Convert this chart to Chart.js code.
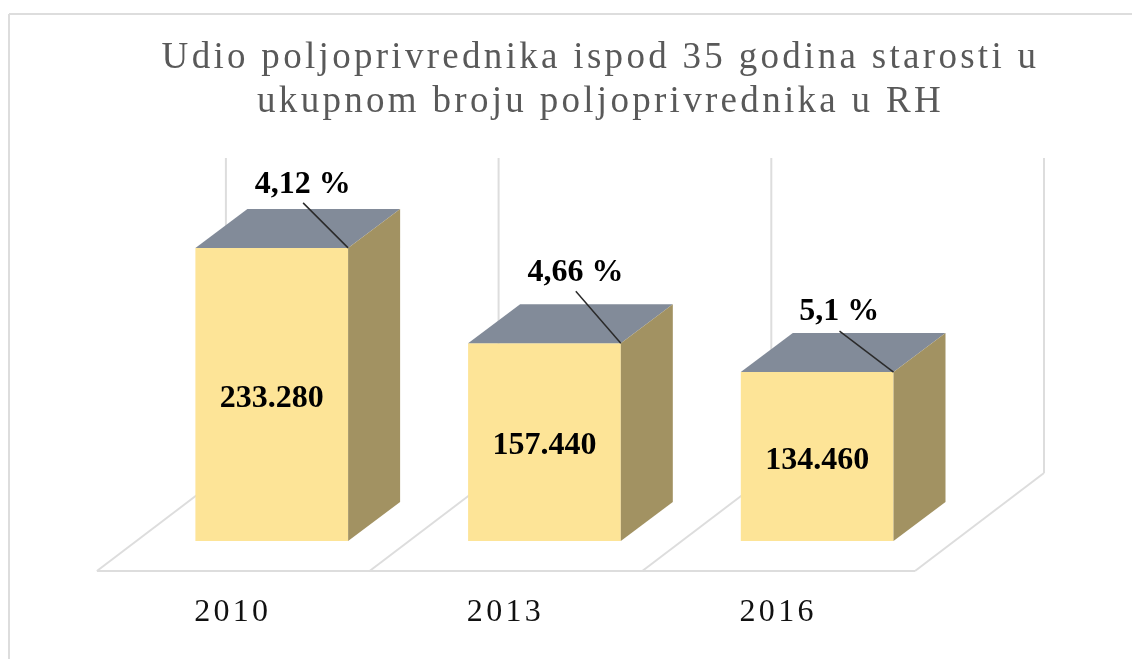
<!DOCTYPE html>
<html>
<head>
<meta charset="utf-8">
<style>html,body{margin:0;padding:0;background:#fff;overflow:hidden}canvas{display:block}</style>
<script src="https://cdn.jsdelivr.net/npm/chart.js@4/dist/chart.umd.min.js"></script>
</head>
<body>
<canvas id="c" width="1132" height="659"></canvas>
<script>
const categories = ['2010', '2013', '2016'];
const farmers = [233280, 157440, 134460];
const farmerLabels = ['233.280', '157.440', '134.460'];
const shareLabels = ['4,12 %', '4,66 %', '5,1 %'];
const titleLines = ['Udio poljoprivrednika ispod 35 godina starosti u', 'ukupnom broju poljoprivrednika u RH'];

const DEPTH_X = 52, DEPTH_Y = 39;
const WALL_X = 129, WALL_Y = 98;
const SERIF = '"Liberation Serif", serif';
const GRID = '#dddddd';
const shareOffset = [[31, -63], [31, -70], [22, -60]];
const leaderStart = [[-45, -45], [-45, -52], [-54, -41]];

function line(ctx, x1, y1, x2, y2) {
  ctx.beginPath(); ctx.moveTo(x1, y1); ctx.lineTo(x2, y2); ctx.stroke();
}
function poly(ctx, pts, fill) {
  ctx.beginPath();
  pts.forEach((p, i) => i ? ctx.lineTo(p[0], p[1]) : ctx.moveTo(p[0], p[1]));
  ctx.closePath(); ctx.fillStyle = fill; ctx.fill();
}

const scene = {
  id: 'scene',
  afterLayout(chart) {
    chart.titleBlock.left = 69;
    chart.titleBlock.right = 1132;
  },
  beforeDraw(chart) {
    const ctx = chart.ctx;
    ctx.save();
    ctx.strokeStyle = GRID; ctx.lineWidth = 2;
    line(ctx, 9, 659, 9, 14);
    line(ctx, 9, 14, 1132, 14);
    ctx.restore();
    ctx.letterSpacing = '3.3px';
  },
  beforeDatasetsDraw(chart) {
    const ctx = chart.ctx, xs = chart.scales.x, area = chart.chartArea;
    const band = xs.getPixelForValue(1) - xs.getPixelForValue(0);
    const floorY = area.bottom + 30, floorX0 = xs.getPixelForValue(0) - band / 2 - 38.5;
    ctx.save();
    ctx.letterSpacing = '0px';
    ctx.strokeStyle = GRID; ctx.lineWidth = 2;
    line(ctx, floorX0, floorY, floorX0 + band * categories.length, floorY);
    for (let i = 0; i <= categories.length; i++) {
      const x = floorX0 + band * i;
      line(ctx, x, floorY, x + WALL_X, floorY - WALL_Y);
      line(ctx, x + WALL_X, floorY - WALL_Y, x + WALL_X, area.top - 6);
    }
    ctx.restore();
  },
  afterDatasetsDraw(chart) {
    const ctx = chart.ctx, meta = chart.getDatasetMeta(0);
    ctx.save();
    ctx.letterSpacing = '0px';
    meta.data.forEach((bar, i) => {
      const l = bar.x - bar.width / 2, r = bar.x + bar.width / 2, t = bar.y, b = bar.base;
      poly(ctx, [[l, t], [r, t], [r + DEPTH_X, t - DEPTH_Y], [l + DEPTH_X, t - DEPTH_Y]], '#828b99');
      poly(ctx, [[r, t], [r + DEPTH_X, t - DEPTH_Y], [r + DEPTH_X, b - DEPTH_Y], [r, b]], '#a29262');
      ctx.strokeStyle = '#2a2a2a'; ctx.lineWidth = 1.5;
      line(ctx, r + leaderStart[i][0], t + leaderStart[i][1], r, t);
      ctx.fillStyle = '#000';
      ctx.font = 'bold 32px ' + SERIF;
      ctx.textAlign = 'center'; ctx.textBaseline = 'middle';
      ctx.fillText(farmerLabels[i], bar.x, (t + b) / 2 + 4);
      ctx.fillText(shareLabels[i], bar.x + shareOffset[i][0], t + shareOffset[i][1]);
    });
    ctx.restore();
  }
};

new Chart(document.getElementById('c'), {
  type: 'bar',
  data: {
    labels: categories,
    datasets: [{
      data: farmers,
      backgroundColor: '#fde497',
      borderWidth: 0,
      categoryPercentage: 1,
      barPercentage: 0.56
    }]
  },
  options: {
    responsive: false,
    animation: false,
    layout: { padding: { left: 135.4, right: 178.5, top: 0, bottom: 30 } },
    plugins: {
      legend: { display: false },
      tooltip: { enabled: false },
      title: {
        display: true,
        text: titleLines,
        color: '#595959',
        font: { family: SERIF, size: 37, weight: 'normal', lineHeight: 1.19 },
        padding: { top: 36, bottom: 40 }
      }
    },
    scales: {
      x: {
        afterFit(scale) { scale.height = 88; },
        grid: { display: false, drawTicks: false },
        border: { display: false },
        ticks: {
          color: '#111',
          font: { family: SERIF, size: 32, lineHeight: 1.2 },
          padding: 52,
          labelOffset: -39,
          maxRotation: 0,
          autoSkip: false
        }
      },
      y: { display: false, min: 0, max: 300000 }
    }
  },
  plugins: [scene]
});
</script>
</body>
</html>
